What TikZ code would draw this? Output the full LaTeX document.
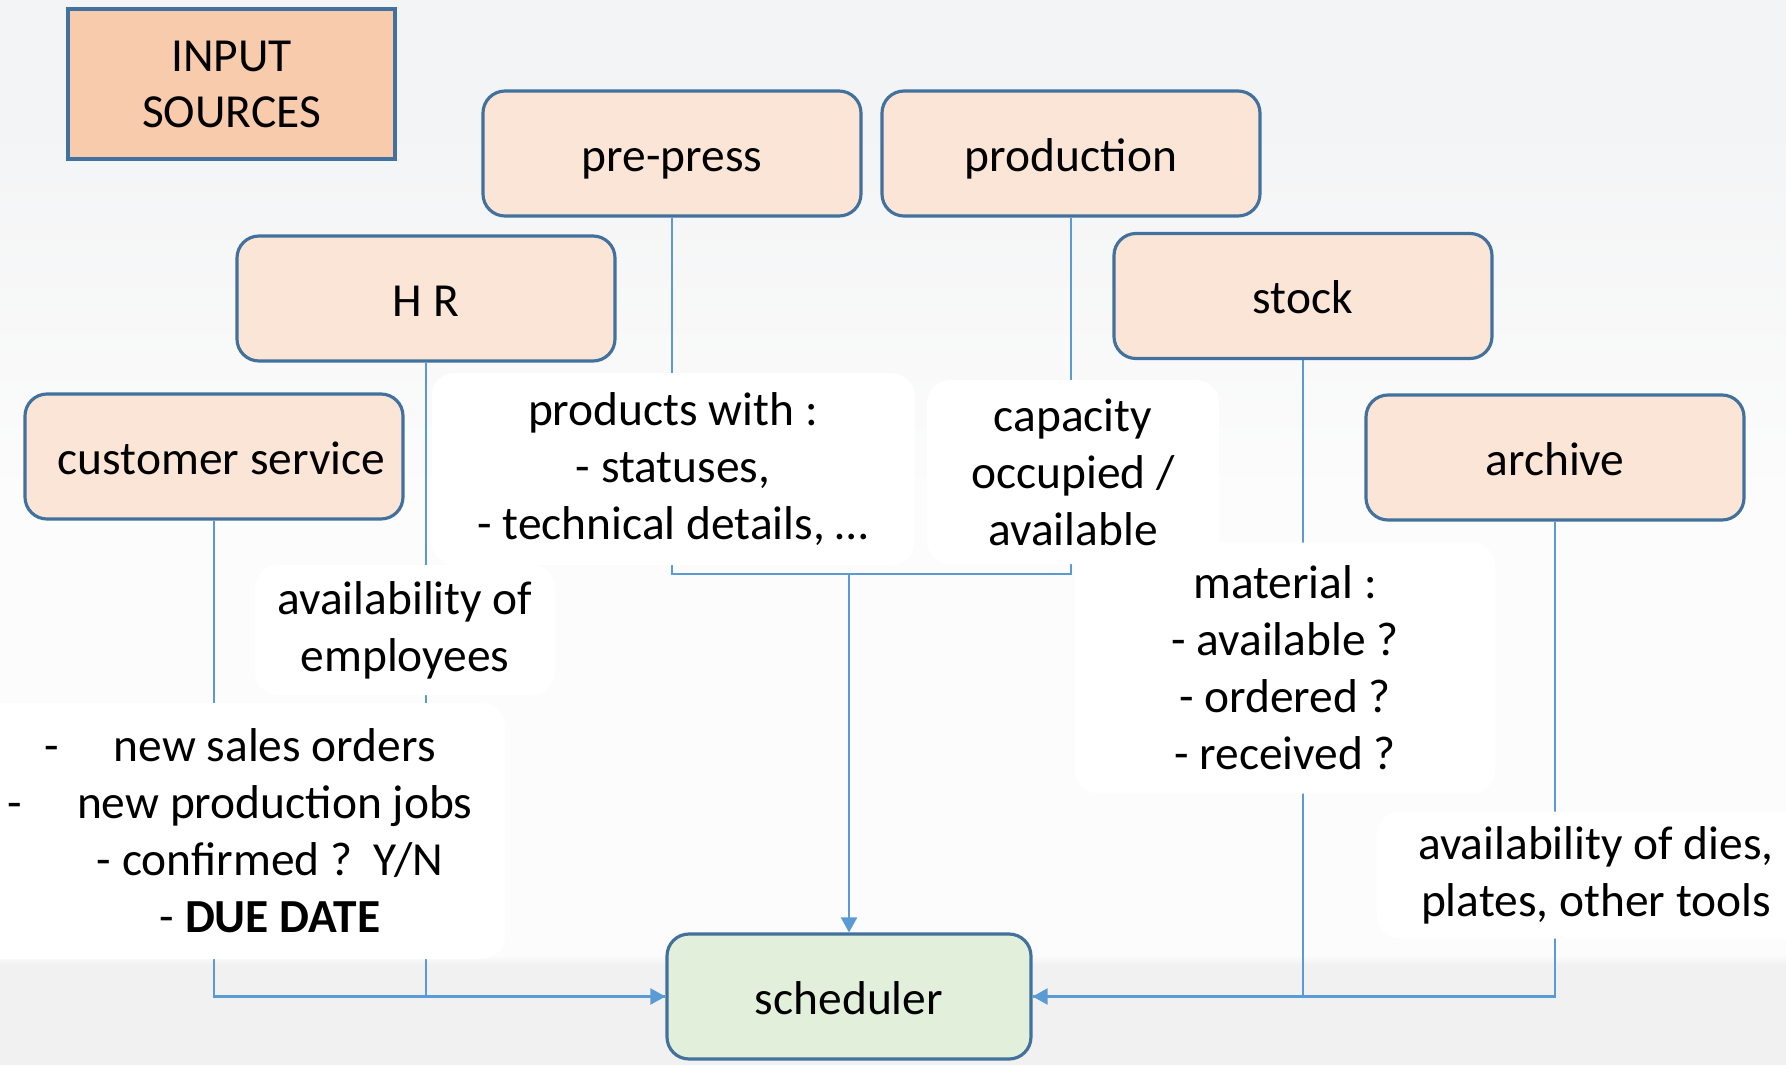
\documentclass[tikz,border=0pt]{standalone}
\usepackage{fontspec}
\setmainfont{Carlito}
\usepackage{xcolor}
\usepackage{tikz}
\usetikzlibrary{arrows.meta}

\definecolor{boxline}{HTML}{41719C}
\definecolor{boxfill}{HTML}{FBE5D6}
\definecolor{srcfill}{HTML}{F8CBAD}
\definecolor{schedfill}{HTML}{E2EFDA}
\definecolor{wirecol}{HTML}{5B9BD5}
\definecolor{bgtop}{HTML}{F3F4F5}
\definecolor{bgmid}{HTML}{FCFCFC}
\definecolor{bgband}{HTML}{F1F1F1}

\pgfdeclarelayer{back}
\pgfdeclarelayer{wires}
\pgfsetlayers{back,wires,main}

\begin{document}
\begin{tikzpicture}[
			font=\fontsize{13.5}{16.2}\selectfont,
			srcbox/.style={draw=boxline, fill=boxfill, rounded corners=0.22cm, minimum width=3.78cm, minimum height=1.25cm, line width=0.9pt, text height=3.5mm, text depth=0pt},
			labelbg/.style={fill=white, rounded corners=0.23cm, align=center, inner sep=0pt},
			wire/.style={draw=wirecol, line width=0.6pt},
			tip/.style={-{Triangle[length=1.5mm, width=1.6mm]}}
		]

		\useasboundingbox (0,0) rectangle (17.86,-10.65);

		\begin{pgfonlayer}{back}
			\fill[bgtop] (0,0) rectangle (17.86,-10.65);
			\shade[top color=bgtop, bottom color=bgmid] (0,-1.2) rectangle (17.86,-5);
			\fill[bgmid] (0,-5) rectangle (17.86,-9.6);
			\shade[top color=bgmid, bottom color=bgband] (0,-9.55) rectangle (17.86,-9.65);
			\fill[bgband] (0,-9.65) rectangle (17.86,-10.65);
		\end{pgfonlayer}

		% sources
		\node[draw=boxline, fill=srcfill, line width=0.9pt, minimum width=3.27cm, minimum height=1.5cm, align=center] (insrc) at (2.315,-0.84) {\raisebox{-0.5mm}{INPUT}\\[0.4mm]SOURCES};

		\node[srcbox] (pre) at (6.72,-1.535) {pre-press};
		\node[srcbox] (prod) at (10.71,-1.535) {production};
		\node[srcbox] (hr) at (4.26,-2.985) {H R};
		\node[srcbox] (stock) at (13.03,-2.96) {stock};
		\node[srcbox] (cust) at (2.14,-4.565) {\hspace*{1.5mm}customer service};
		\node[srcbox] (arch) at (15.55,-4.575) {archive};

		\node[srcbox, fill=schedfill, minimum width=3.64cm] (sched) at (8.49,-9.965) {scheduler};

		% what each source delivers
		\node[labelbg, minimum width=4.2cm, minimum height=2.51cm] (lblmat) at (12.85,-6.68) {material :\\- available ?\\- ordered ?\\- received ?};
		\node[labelbg, minimum width=4.83cm, minimum height=1.92cm] (lblprod) at (6.73,-4.69) {products with :\\- statuses,\\- technical details, …};
		\node[labelbg, minimum width=2.92cm, minimum height=1.84cm] (lblcap) at (10.73,-4.72) {capacity\\occupied /\\available};
		\node[labelbg, minimum width=3.0cm, minimum height=1.30cm] (lblemp) at (4.05,-6.30) {availability of\\employees};
		\node[labelbg, minimum width=5.3cm, minimum height=2.56cm] (lblcust) at (2.40,-8.31) {-\hspace{5.5mm}new sales orders\\-\hspace{5.5mm}new production jobs\\\hspace*{6mm}- confirmed ?\ \ Y/N\\\hspace*{6mm}- \textbf{DUE DATE}};
		\node[labelbg, minimum width=4.38cm, minimum height=1.27cm] (lbldies) at (15.96,-8.75) {availability of dies,\\plates, other tools};

		\coordinate (join) at (8.49,-5.74);

		\begin{pgfonlayer}{wires}
			\draw[wire] (pre.south) |- (join) -| (prod.south);
			\draw[wire, tip] (join) -- (sched.north);
			\draw[wire] (cust.south) |- (sched.west);
			\draw[wire, tip] (hr.south) |- (sched.west);
			\draw[wire] (stock.south) |- (sched.east);
			\draw[wire, tip] (arch.south) |- (sched.east);
		\end{pgfonlayer}

	\end{tikzpicture}
\end{document}
